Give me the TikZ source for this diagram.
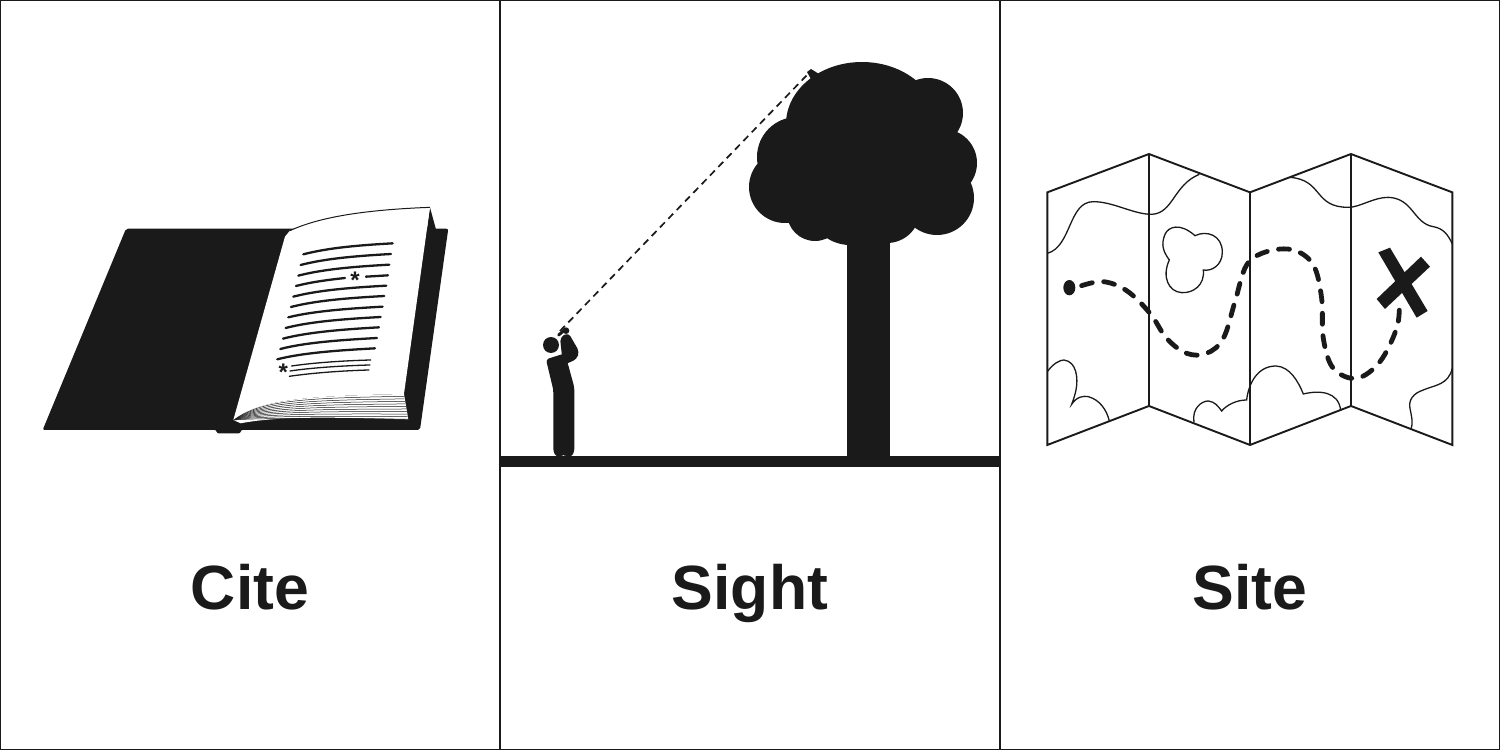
\documentclass[tikz,border=0pt]{standalone}
\usepackage{fontspec}
\setmainfont{Liberation Sans}
\definecolor{ink}{HTML}{1A1A1A}
\tikzset{
  frameline/.style={draw=ink,line width=2pt},
  title/.style={anchor=base,text=ink,font=\bfseries\fontsize{62.5}{64}\selectfont,inner sep=0pt},
  pageline/.style={draw=ink,line width=2.3pt,line cap=round},
  fineline/.style={draw=ink,line width=1.3pt,line cap=round},
  leaf/.style={draw=ink,line width=0.5pt},
  starmark/.style={anchor=base,text=ink,inner sep=0pt,font=\bfseries\fontsize{24}{24}\selectfont},
  mapfold/.style={draw=ink,line width=1.9pt,line join=miter},
  coast/.style={draw=ink,line width=1.3pt},
  route/.style={draw=ink,line width=4.8pt,line cap=round,dash pattern=on 11pt off 11.5pt},
}
\begin{document}
\begin{tikzpicture}[x=1pt,y=-1pt]
\useasboundingbox (0,0) rectangle (1500,750);
\fill[white] (0,0) rectangle (1500,750);
\draw[draw=ink,line width=2pt] (0,0) rectangle (1500,750);
\coordinate (d1t) at (500,0); \coordinate (d1b) at (500,750);
\coordinate (d2t) at (1000,0); \coordinate (d2b) at (1000,750);
\draw[frameline] (d1t) -- (d1b);
\draw[frameline] (d2t) -- (d2b);

% ---------- book
\begin{scope}[shift={(30,190)},x=0.3333pt,y=-0.3333pt]
\fill[ink,rounded corners=2pt] (288,116) -- (1255,116) -- (1170,720) -- (632,720) -- (632,730) -- (560,730) -- (560,720) -- (38,720) -- cycle;
\fill[ink] (1200,52) -- (1218,118) -- (1150,500) -- (1122,612) -- cycle;
% page block
\fill[white] (610,690) .. controls (690,625) and (850,618) .. (1122,612) -- (1135,688) .. controls (950,684) and (760,675) .. (632,700) -- cycle;
\foreach \i in {0,...,9}{
  \pgfmathsetmacro{\ex}{1122+1.4*\i}
  \pgfmathsetmacro{\ey}{619+7.6*\i}
  \pgfmathsetmacro{\cay}{628+6.2*\i}
  \pgfmathsetmacro{\cby}{624+6.8*\i}
  \draw[leaf] (610,690) .. controls (690,\cay) and (850,\cby) .. (\ex,\ey);
}
% page
\fill[white] (610,690) -- (765,140) -- (780,122) .. controls (880,75) and (1040,58) .. (1200,52) -- (1122,612) .. controls (850,618) and (690,625) .. (610,690) -- cycle;
\draw[ink,line width=1pt] (780,122) .. controls (880,75) and (1040,58) .. (1200,52);
% text lines
\draw[pageline] (820,193) .. controls (900,172) and (1000,165) .. (1088,160);
\draw[pageline] (812,225) .. controls (892,204) and (995,197) .. (1083,192);
\draw[pageline] (805,257) .. controls (885,236) and (990,229) .. (1078,224);
\draw[pageline] (798,288) .. controls (840,277) and (890,270) .. (945,264);
\draw[pageline] (1008,260) -- (1074,256);
\draw[pageline] (790,320) .. controls (870,299) and (980,292) .. (1069,287);
\draw[pageline] (783,351) .. controls (863,330) and (975,323) .. (1063,318);
\draw[pageline] (775,382) .. controls (855,362) and (970,355) .. (1058,350);
\draw[pageline] (767,414) .. controls (847,393) and (964,386) .. (1052,381);
\draw[pageline] (759,446) .. controls (839,425) and (959,417) .. (1047,412);
\draw[pageline] (751,477) .. controls (831,456) and (953,449) .. (1041,444);
\draw[pageline] (742,508) .. controls (822,487) and (947,480) .. (1035,475);
\draw[fineline] (785,528) .. controls (860,517) and (950,512) .. (1022,510);
\draw[fineline] (780,543) .. controls (855,532) and (948,527) .. (1020,525);
\draw[fineline] (778,559) .. controls (853,548) and (945,542) .. (1017,540);
\node[starmark] (starA) at (975,296) {*};
\node[starmark] (starB) at (760,571) {*};
\end{scope}
\node[title] (cite) at (250,609) {Cite};

% ---------- ground and tree
\fill[ink] (500,456) rectangle (1000,467);
\fill[ink] (847,220) rectangle (890,460);
\fill[ink] (862,124) ellipse[x radius=76,y radius=62];
\fill[ink] (928,113) circle[radius=35];
\fill[ink] (943,163) circle[radius=34];
\fill[ink] (937,198) circle[radius=37];
\fill[ink] (797,157) circle[radius=40];
\fill[ink] (785,187) circle[radius=36];
\fill[ink] (815,213) circle[radius=28];
\fill[ink] (850,203) circle[radius=42];
\fill[ink] (887,210) circle[radius=33];
\fill[ink] (860,170) circle[radius=60];
\fill[ink] (807,72) -- (811,69) -- (819,74) -- (812,81) -- cycle;

% ---------- person
\begin{scope}[shift={(520,300)},x=0.3333pt,y=-0.3333pt]
\fill[ink] (93,135) circle[radius=24];
\fill[ink,rounded corners=3pt] (78,178) -- (135,160) -- (163,262) -- (163,455) -- (155,470) -- (136,470) -- (131,460) -- (126,470) -- (108,470) -- (100,455) -- (100,270) -- cycle;
\fill[ink,rounded corners=4pt] (120,112) -- (145,98) -- (178,155) -- (170,178) -- (130,195) -- (125,160) -- cycle;
\draw[ink,line width=3pt,line cap=round] (116,105) -- (136,88);
\fill[ink] (138,92) circle[radius=10];
\end{scope}
\coordinate (sightA) at (560,331);
\coordinate (sightB) at (808,74);
\draw[ink,line width=1.7pt,dash pattern=on 7pt off 5pt] (sightA) -- (sightB);
\node[title] (sight) at (750,609) {Sight};

% ---------- map
\begin{scope}[shift={(1040,145)},x=0.3333pt,y=-0.3333pt]
\draw[coast] (22,325) .. controls (95,305) and (85,170) .. (160,170) .. controls (220,170) and (280,208) .. (335,208) .. controls (400,205) and (400,120) .. (478,88);
\draw[coast] (750,97) .. controls (850,105) and (820,187) .. (925,187) .. controls (960,187) and (1000,157) .. (1045,157) .. controls (1120,160) and (1120,235) .. (1180,245) .. controls (1210,250) and (1225,270) .. (1237,297);
\draw[coast] (388,345) .. controls (370,320) and (362,300) .. (375,268) .. controls (385,245) and (420,232) .. (465,272) .. controls (500,255) and (547,270) .. (547,322) .. controls (547,360) and (515,380) .. (490,375) .. controls (495,420) and (460,445) .. (425,443) .. controls (385,440) and (365,395) .. (388,345) -- cycle;
\draw[coast] (22,680) .. controls (40,655) and (60,645) .. (72,645) .. controls (110,650) and (115,700) .. (108,735) .. controls (105,750) and (100,765) .. (95,778) .. controls (110,755) and (130,752) .. (145,755) .. controls (180,765) and (200,795) .. (208,828);
\draw[coast] (462,832) .. controls (455,790) and (485,768) .. (505,768) .. controls (525,770) and (535,785) .. (545,798) .. controls (560,780) and (590,765) .. (620,765) .. controls (625,720) and (650,663) .. (708,663) .. controls (750,665) and (775,710) .. (790,747) .. controls (840,735) and (895,740) .. (902,795);
\draw[coast] (1237,670) .. controls (1225,720) and (1185,720) .. (1150,735) .. controls (1120,745) and (1105,765) .. (1110,790) .. controls (1115,815) and (1120,835) .. (1113,853);
\draw[mapfold] (22,142) -- (327,27) -- (630,142) -- (933,27) -- (1237,142) -- (1237,900) -- (933,783) -- (630,900) -- (327,783) -- (22,900) -- cycle;
\draw[mapfold] (327,27) -- (327,783);
\draw[mapfold] (630,142) -- (630,900);
\draw[mapfold] (933,27) -- (933,783);
\draw[route] plot[smooth,tension=0.6] coordinates {(125,422) (190,410) (260,437) (330,505) (380,580) (440,625) (500,625) (550,580) (585,470) (620,360) (680,320) (760,315) (820,360) (845,460) (850,580) (880,670) (950,700) (1020,650) (1070,550) (1078,480)};
\fill[ink] (88,428) ellipse[x radius=18,y radius=23];
\fill[ink] (1015,322) -- (1050,308) -- (1163,498) -- (1130,518) -- cycle;
\fill[ink] (1143,335) -- (1170,365) -- (1035,492) -- (1010,462) -- cycle;
\end{scope}
\node[title] (site) at (1250,609) {Site};
\end{tikzpicture}
\end{document}
